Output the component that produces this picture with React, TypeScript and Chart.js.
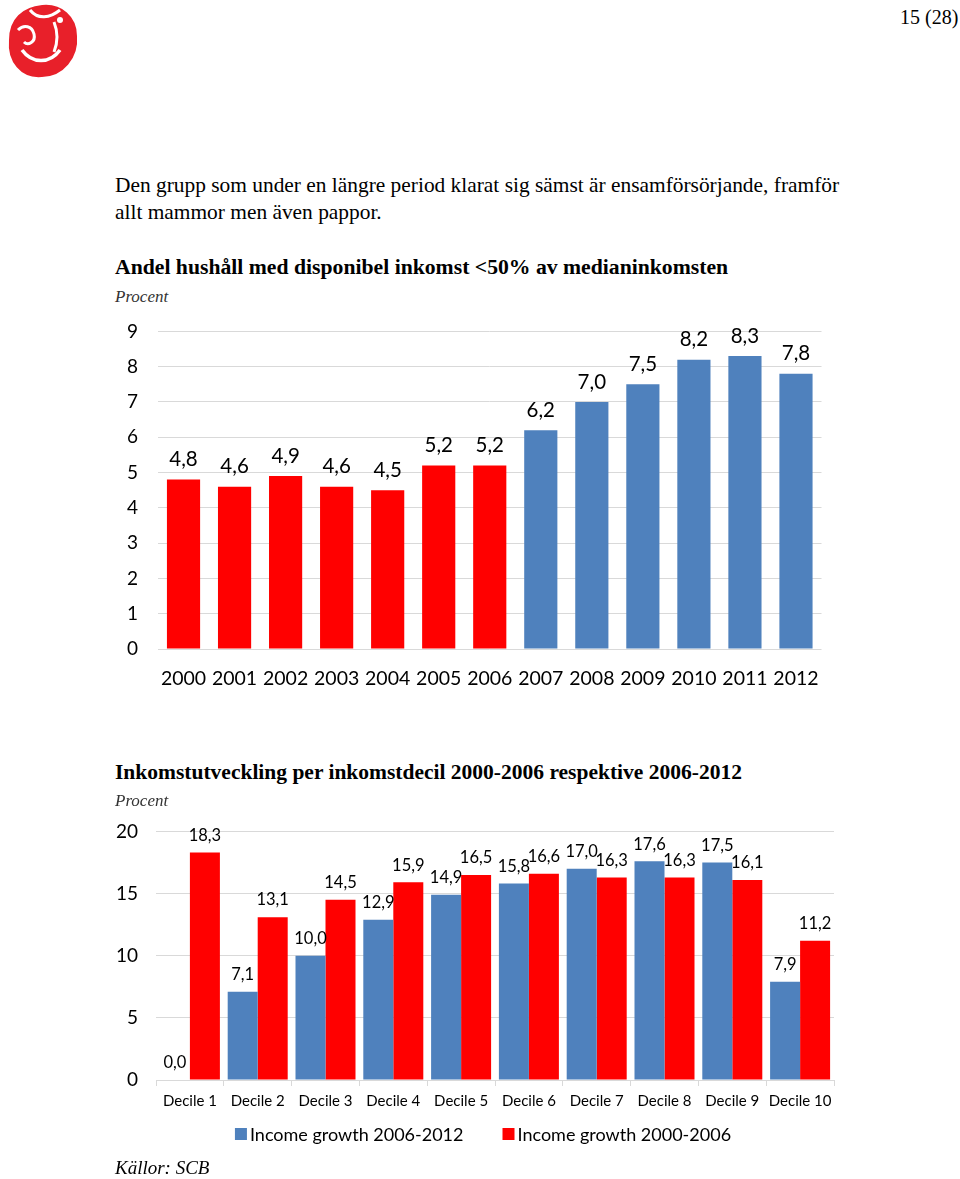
import React, { useEffect, useRef } from "react";
import { Chart, registerables } from "chart.js";

Chart.register(...registerables);

// ---------- Data ----------
const years = ["2000", "2001", "2002", "2003", "2004", "2005", "2006", "2007", "2008", "2009", "2010", "2011", "2012"];
const povertyShare = [4.8, 4.6, 4.9, 4.6, 4.5, 5.2, 5.2, 6.2, 7.0, 7.5, 8.2, 8.3, 7.8];
const lastRedYear = 2006;

const deciles = ["Decile 1", "Decile 2", "Decile 3", "Decile 4", "Decile 5", "Decile 6", "Decile 7", "Decile 8", "Decile 9", "Decile 10"];
const growth2006to2012 = [0.0, 7.1, 10.0, 12.9, 14.9, 15.8, 17.0, 17.6, 17.5, 7.9];
const growth2000to2006 = [18.3, 13.1, 14.5, 15.9, 16.5, 16.6, 16.3, 16.3, 16.1, 11.2];
const seriesNames = ["Income growth 2006-2012", "Income growth 2000-2006"];

const RED = "#FF0000";
const BLUE = "#4F81BD";
const GRID = "#D9D9D9";
const SANS = "Lato, 'Open Sans', sans-serif";
const SERIF = "'Liberation Serif', 'DejaVu Serif', serif";

const fmt = (v: number) => v.toFixed(1).replace(".", ",");

function labelPlugin(offset: number, size: number) {
  return {
    id: "valueLabels" + offset,
    afterDatasetsDraw(chart: any) {
      const ctx = chart.ctx;
      ctx.save();
      ctx.font = `${size}px ${SANS}`;
      ctx.fillStyle = "#000";
      ctx.textAlign = "center";
      ctx.textBaseline = "middle";
      chart.data.datasets.forEach((ds: any, i: number) => {
        const meta = chart.getDatasetMeta(i);
        meta.data.forEach((el: any, j: number) => {
          ctx.fillText(fmt(ds.data[j]), el.x, el.y - offset);
        });
      });
      ctx.restore();
    },
  };
}

const legendPlugin = {
  id: "customLegend",
  afterDraw(chart: any) {
    const ctx = chart.ctx;
    ctx.save();
    ctx.font = `18px ${SANS}`;
    ctx.textBaseline = "middle";
    const y = chart.chartArea.bottom + 54;
    const box = 12;
    const gapBoxText = 3;
    const gapItems = 39;
    const items = chart.data.datasets.map((ds: any) => ({ label: ds.label, color: ds.backgroundColor }));
    const widths = items.map((it: any) => box + gapBoxText + ctx.measureText(it.label).width);
    const total = widths.reduce((a: number, b: number) => a + b, 0) + gapItems * (items.length - 1);
    let x = 483 - total / 2;
    items.forEach((it: any, i: number) => {
      ctx.fillStyle = it.color;
      ctx.fillRect(x, y - box / 2, box, box);
      ctx.fillStyle = "#000";
      ctx.fillText(it.label, x + box + gapBoxText, y + 1);
      x += widths[i] + gapItems;
    });
    ctx.restore();
  },
};

function PovertyChart() {
  const ref = useRef<HTMLCanvasElement>(null);
  useEffect(() => {
    const chart = new Chart(ref.current!, {
      type: "bar",
      data: {
        labels: years,
        datasets: [
          {
            data: povertyShare,
            backgroundColor: years.map((y) => (Number(y) <= lastRedYear ? RED : BLUE)),
            categoryPercentage: 0.65,
            barPercentage: 1.0,
          },
        ],
      },
      options: {
        animation: false,
        responsive: false,
        maintainAspectRatio: false,
        layout: { padding: { left: 100, right: 138.5, top: 26, bottom: 11 } },
        plugins: { legend: { display: false }, tooltip: { enabled: false } },
        scales: {
          x: {
            grid: { display: false },
            border: { display: false },
            ticks: { font: { family: SANS, size: 19.5 }, color: "#000", padding: 10, maxRotation: 0 },
            afterFit: (s: any) => { s.height = 45; },
          },
          y: {
            min: 0,
            max: 9,
            ticks: { stepSize: 1, font: { family: SANS, size: 19 }, color: "#000", padding: 20 },
            grid: { color: GRID, drawTicks: false, lineWidth: 1 },
            border: { display: false },
            afterFit: (s: any) => { s.width = 58; },
          },
        },
      },
      plugins: [labelPlugin(20, 20.5)],
    });
    return () => chart.destroy();
  }, []);
  return <canvas ref={ref} width={960} height={405} style={{ position: "absolute", left: 0, top: 300, width: 960, height: 405 }} />;
}

function DecileChart() {
  const ref = useRef<HTMLCanvasElement>(null);
  useEffect(() => {
    const chart = new Chart(ref.current!, {
      type: "bar",
      data: {
        labels: deciles,
        datasets: [
          { label: seriesNames[0], data: growth2006to2012, backgroundColor: BLUE, categoryPercentage: 0.885, barPercentage: 1.0 },
          { label: seriesNames[1], data: growth2000to2006, backgroundColor: RED, categoryPercentage: 0.885, barPercentage: 1.0 },
        ],
      },
      options: {
        animation: false,
        responsive: false,
        maintainAspectRatio: false,
        layout: { padding: { left: 100, right: 126, top: 17, bottom: 59 } },
        plugins: { legend: { display: false }, tooltip: { enabled: false } },
        scales: {
          x: {
            grid: { display: true, drawOnChartArea: false, drawTicks: true, tickLength: 6, color: GRID, offset: true },
            border: { display: true, color: GRID },
            ticks: { font: { family: SANS, size: 15 }, color: "#000", padding: 6, maxRotation: 0 },
            afterFit: (s: any) => { s.height = 40; },
          },
          y: {
            min: 0,
            max: 20,
            ticks: { stepSize: 5, font: { family: SANS, size: 19 }, color: "#000", padding: 18 },
            grid: { color: GRID, drawTicks: false },
            border: { display: false },
            afterFit: (s: any) => { s.width = 56; },
          },
        },
      },
      plugins: [labelPlugin(17, 16.5), legendPlugin],
    });
    return () => chart.destroy();
  }, []);
  return <canvas ref={ref} width={960} height={377} style={{ position: "absolute", left: 0, top: 802, width: 960, height: 377 }} />;
}

function Logo() {
  return (
    <svg width={80} height={82} viewBox="0 0 80 82" style={{ position: "absolute", left: 2, top: 0 }}>
      <path d="M40 4 C60 2 76 16 76 36 C78 58 62 78 40 78 C18 80 4 62 6 40 C6 18 20 6 40 4 Z" fill="#E8202A" stroke="#fff" strokeWidth={2} />
      <path d="M16 30 C22 24 30 26 32 34 C34 42 26 46 22 42" fill="none" stroke="#fff" strokeWidth={3} />
      <path d="M20 50 C30 64 48 64 58 50" fill="none" stroke="#fff" strokeWidth={3.5} />
      <path d="M52 22 C56 32 56 42 52 52" fill="none" stroke="#fff" strokeWidth={3} />
      <path d="M28 10 C36 20 48 18 58 10" fill="none" stroke="#fff" strokeWidth={3} />
      <circle cx="58" cy="20" r="3" fill="#fff" />
    </svg>
  );
}

const textStyle = (top: number, size: number, extra: any = {}) => ({
  position: "absolute" as const,
  left: 115,
  top,
  fontFamily: SERIF,
  fontSize: size,
  lineHeight: `${size}px`,
  whiteSpace: "nowrap" as const,
  color: "#000",
  margin: 0,
  ...extra,
});

export default function App() {
  return (
    <div style={{ position: "absolute", left: 0, top: 0, width: 960, height: 1179, background: "#fff", overflow: "hidden" }}>
      <Logo />
      <div style={textStyle(7, 20, { left: 900 })}>15 (28)</div>
      <div style={textStyle(175, 21.4)}>Den grupp som under en längre period klarat sig sämst är ensamförsörjande, framför</div>
      <div style={textStyle(202, 21.4)}>allt mammor men även pappor.</div>
      <div style={textStyle(257, 21.7, { fontWeight: "bold" })}>Andel hushåll med disponibel inkomst &lt;50% av medianinkomsten</div>
      <div style={textStyle(287.5, 17, { fontStyle: "italic", color: "#333" })}>Procent</div>
      <PovertyChart />
      <DecileChart />
      <div style={textStyle(762, 21.5, { fontWeight: "bold" })}>Inkomstutveckling per inkomstdecil 2000-2006 respektive 2006-2012</div>
      <div style={textStyle(791.5, 17, { fontStyle: "italic", color: "#333" })}>Procent</div>
      <div style={textStyle(1158, 19, { fontStyle: "italic" })}>Källor: SCB</div>
    </div>
  );
}
